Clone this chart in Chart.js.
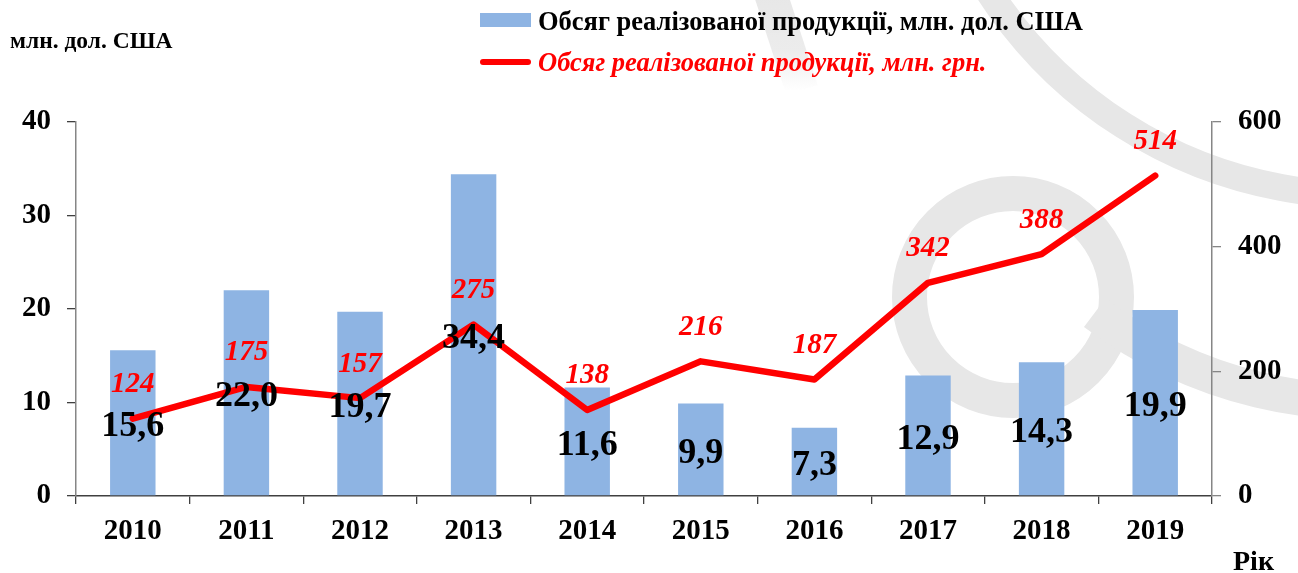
<!DOCTYPE html>
<html>
<head>
<meta charset="utf-8">
<script src="https://cdn.jsdelivr.net/npm/chart.js@4.4.1/dist/chart.umd.min.js"></script>
<style>
  html, body { margin: 0; padding: 0; background: #ffffff; }
  #wrap { position: relative; width: 1298px; height: 573px; overflow: hidden; }
  #chart { position: absolute; left: 0; top: 0; }
  .txt { position: absolute; font-family: "Liberation Serif", "Times New Roman", serif; font-weight: bold; white-space: nowrap; line-height: 1; }
  #yTitle { left: 10px; top: 29px; font-size: 23.5px; color: #000; }
  #xTitle { left: 1233px; top: 547px; font-size: 28px; color: #000; }
  .leg { position: absolute; left: 480px; height: 30px; }
  .leg .sw { position: absolute; left: 0; }
  .leg .lt { position: absolute; left: 58px; top: 0; font-family: "Liberation Serif", "Times New Roman", serif; font-weight: bold; white-space: nowrap; line-height: 30px; font-size: 26.5px; }
  #leg1 { top: 6px; }
  #leg1 .sw { top: 7px; width: 51px; height: 14px; background: #8EB4E3; }
  #leg1 .lt { color: #000; }
  #leg2 { top: 47px; }
  #leg2 .sw { top: 12px; width: 51px; height: 6px; background: #FF0000; border-radius: 3px; }
  #leg2 .lt { color: #FF0000; font-style: italic; }
</style>
</head>
<body>
<div id="wrap">
  <canvas id="chart" width="1298" height="573"></canvas>
  <div class="txt" id="yTitle">млн. дол. США</div>
  <div class="leg" id="leg1"><div class="sw"></div><div class="lt">Обсяг реалізованої продукції, млн. дол. США</div></div>
  <div class="leg" id="leg2"><div class="sw"></div><div class="lt">Обсяг реалізованої продукції, млн. грн.</div></div>
  <div class="txt" id="xTitle">Рік</div>
</div>
<script>
// ---- data ----
const categories = ['2010', '2011', '2012', '2013', '2014', '2015', '2016', '2017', '2018', '2019'];
const usdValues = [15.6, 22.0, 19.7, 34.4, 11.6, 9.9, 7.3, 12.9, 14.3, 19.9];
const uahValues = [124, 175, 157, 275, 138, 216, 187, 342, 388, 514];
const leftTicks = [0, 10, 20, 30, 40];
const rightTicks = [0, 200, 400, 600];
const seriesNames = ['Обсяг реалізованої продукції, млн. дол. США', 'Обсяг реалізованої продукції, млн. грн.'];

const SERIF = '"Liberation Serif", "Times New Roman", serif';
const GRAY_MARK = 'rgb(231,231,231)';

// background watermark (decorative)
const watermark = {
  id: 'watermark',
  beforeDraw(chart) {
    const ctx = chart.ctx;
    ctx.save();
    ctx.strokeStyle = GRAY_MARK;
    ctx.lineCap = 'butt';
    // big arc
    ctx.lineWidth = 27;
    ctx.beginPath();
    ctx.arc(1362, -249, 444, 80 * Math.PI / 180, 165 * Math.PI / 180);
    ctx.stroke();
    // ring
    ctx.lineWidth = 35;
    ctx.beginPath();
    ctx.arc(1013, 297, 103.5, 0, Math.PI * 2);
    ctx.stroke();
    // tail
    ctx.lineWidth = 36;
    ctx.beginPath();
    ctx.arc(1362, -42, 444, 80 * Math.PI / 180, 127 * Math.PI / 180);
    ctx.stroke();
    // fading band at top
    const g = ctx.createLinearGradient(0, 0, 0, 90);
    g.addColorStop(0, 'rgba(231,231,231,1)');
    g.addColorStop(0.55, 'rgba(231,231,231,0.8)');
    g.addColorStop(1, 'rgba(231,231,231,0)');
    ctx.strokeStyle = g;
    ctx.lineWidth = 33;
    ctx.beginPath();
    ctx.moveTo(771, -5);
    ctx.lineTo(802, 90);
    ctx.stroke();
    ctx.restore();
  }
};

const fmt = v => v.toFixed(1).replace('.', ',');

const valueLabels = {
  id: 'valueLabels',
  afterDatasetsDraw(chart) {
    const ctx = chart.ctx;
    ctx.save();
    ctx.textAlign = 'center';
    ctx.textBaseline = 'middle';
    // bar labels: centered in bar
    const barMeta = chart.getDatasetMeta(0);
    ctx.fillStyle = '#000000';
    ctx.font = 'bold 36px ' + SERIF;
    barMeta.data.forEach((el, i) => {
      const y = (el.y + el.base) / 2;
      ctx.fillText(fmt(usdValues[i]), el.x, y + 4);
    });
    // line labels: above points
    const lineMeta = chart.getDatasetMeta(1);
    ctx.fillStyle = '#FF0000';
    ctx.font = 'italic bold 29px ' + SERIF;
    lineMeta.data.forEach((el, i) => {
      ctx.fillText(String(uahValues[i]), el.x, el.y - 34);
    });
    ctx.restore();
  }
};

const tickFont = { family: SERIF, size: 29, weight: 'bold' };

new Chart(document.getElementById('chart'), {
  type: 'bar',
  data: {
    labels: categories,
    datasets: [
      {
        type: 'bar',
        label: seriesNames[0],
        data: usdValues,
        backgroundColor: '#8EB4E3',
        borderWidth: 0,
        barPercentage: 0.4,
        categoryPercentage: 1.0,
        yAxisID: 'y',
        order: 2
      },
      {
        type: 'line',
        label: seriesNames[1],
        data: uahValues,
        borderColor: '#FF0000',
        borderWidth: 6.5,
        pointRadius: 0,
        pointHoverRadius: 0,
        tension: 0,
        fill: false,
        borderCapStyle: 'round',
        borderJoinStyle: 'round',
        yAxisID: 'y1',
        order: 1
      }
    ]
  },
  options: {
    responsive: false,
    animation: false,
    devicePixelRatio: 1,
    layout: { padding: { top: 122, left: 0, right: 0, bottom: 0 } },
    plugins: { legend: { display: false }, tooltip: { enabled: false } },
    scales: {
      x: {
        type: 'category',
        offset: true,
        grid: { offset: true, drawOnChartArea: false, drawTicks: true, tickLength: 8, color: '#404040', lineWidth: 1.3 },
        border: { display: true, color: '#404040', width: 1.5 },
        ticks: { color: '#000', font: tickFont, padding: 10, maxRotation: 0, autoSkip: false },
        afterFit: s => { s.height = 77; }
      },
      y: {
        position: 'left',
        min: 0,
        max: 40,
        afterBuildTicks: s => { s.ticks = leftTicks.map(v => ({ value: v })); },
        grid: { drawOnChartArea: false, drawTicks: true, tickLength: 9, color: '#404040', lineWidth: 1.3 },
        border: { display: true, color: '#868686', width: 1.5 },
        ticks: { color: '#000', font: tickFont, padding: 16, callback: v => String(v) },
        afterFit: s => { s.width = 76; }
      },
      y1: {
        position: 'right',
        min: 0,
        max: 600,
        afterBuildTicks: s => { s.ticks = rightTicks.map(v => ({ value: v })); },
        grid: { drawOnChartArea: false, drawTicks: true, tickLength: 9, color: '#868686', lineWidth: 1.3 },
        border: { display: true, color: '#868686', width: 1.5 },
        ticks: { color: '#000', font: tickFont, padding: 17, callback: v => String(v) },
        afterFit: s => { s.width = 86; }
      }
    }
  },
  plugins: [watermark, valueLabels]
});
</script>
</body>
</html>
